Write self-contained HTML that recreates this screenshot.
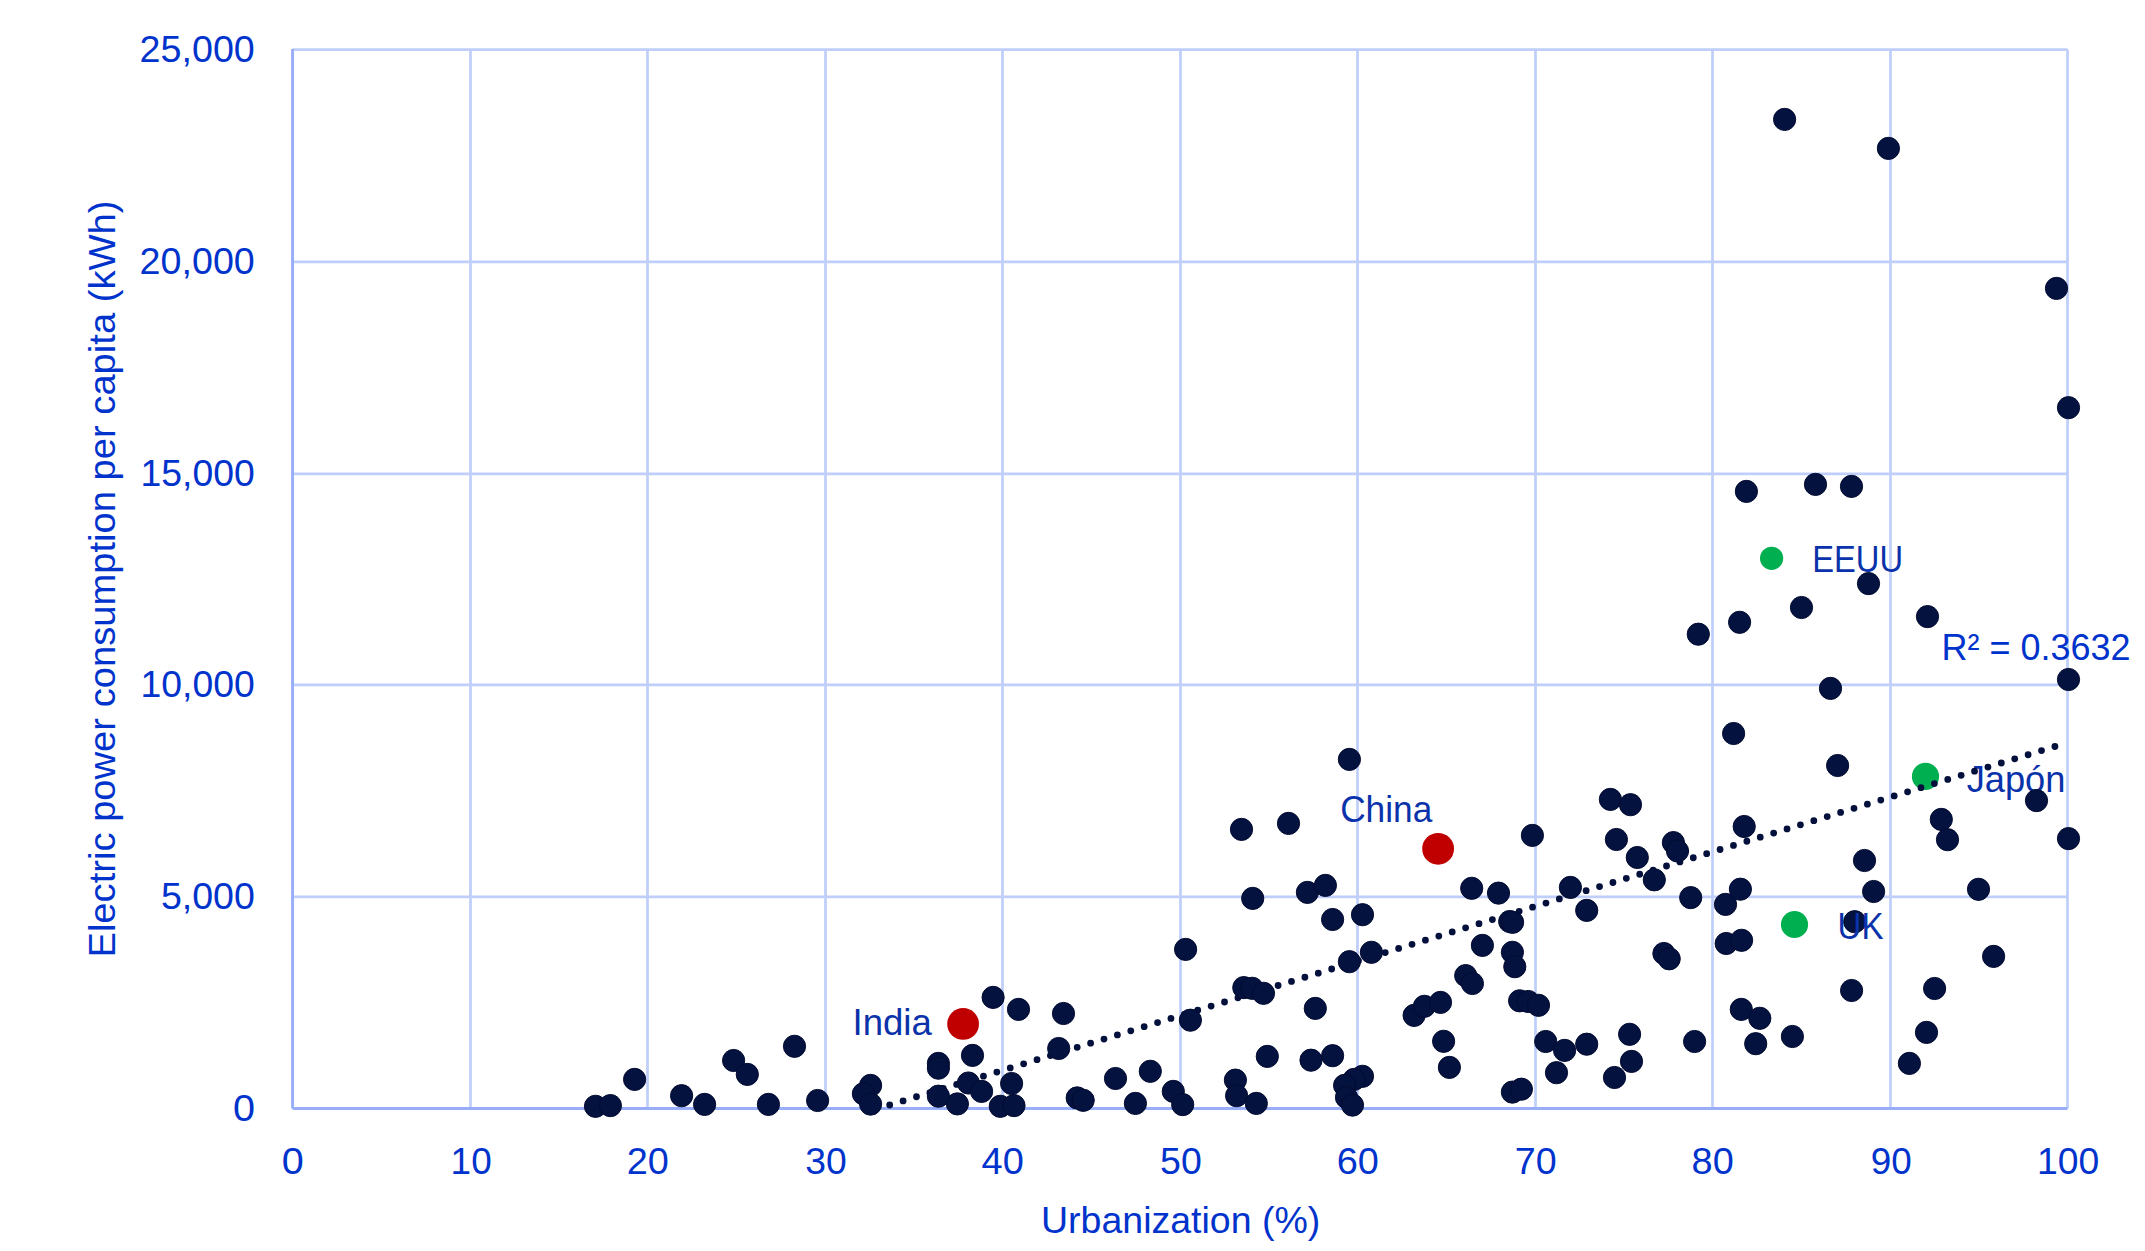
<!DOCTYPE html>
<html lang="en"><head><meta charset="utf-8"><title>Urbanization vs electric power consumption</title>
<style>
html,body{margin:0;padding:0;background:#fff;}
body{width:2145px;height:1251px;overflow:hidden;}
svg{display:block;}
text{font-family:"Liberation Sans",sans-serif;}
.ax{fill:#0033cc;font-size:37px;}
.lb{fill:#0a32aa;font-size:37px;}
</style></head><body>
<svg width="2145" height="1251" viewBox="0 0 2145 1251">
<rect width="2145" height="1251" fill="#fff"/>

<g stroke="#bfcefa" stroke-width="2.7" fill="none">
<line x1="470.50" y1="49.60" x2="470.50" y2="1108.55"/>
<line x1="647.50" y1="49.60" x2="647.50" y2="1108.55"/>
<line x1="825.50" y1="49.60" x2="825.50" y2="1108.55"/>
<line x1="1002.50" y1="49.60" x2="1002.50" y2="1108.55"/>
<line x1="1180.50" y1="49.60" x2="1180.50" y2="1108.55"/>
<line x1="1357.50" y1="49.60" x2="1357.50" y2="1108.55"/>
<line x1="1535.50" y1="49.60" x2="1535.50" y2="1108.55"/>
<line x1="1712.50" y1="49.60" x2="1712.50" y2="1108.55"/>
<line x1="1890.50" y1="49.60" x2="1890.50" y2="1108.55"/>
<line x1="2067.50" y1="49.60" x2="2067.50" y2="1108.55"/>
<line x1="292.55" y1="896.90" x2="2067.50" y2="896.90"/>
<line x1="292.55" y1="684.90" x2="2067.50" y2="684.90"/>
<line x1="292.55" y1="473.90" x2="2067.50" y2="473.90"/>
<line x1="292.55" y1="261.90" x2="2067.50" y2="261.90"/>
<line x1="292.55" y1="49.60" x2="2067.50" y2="49.60"/>
</g>
<g stroke="#98aef8" stroke-width="2.9" fill="none">
<line x1="292.55" y1="49.10" x2="292.55" y2="1108.55"/>
<line x1="292.55" y1="1108.55" x2="2067.50" y2="1108.55"/>
</g>
<circle cx="963.1" cy="1023.9" r="15.9" fill="#c00000"/>
<circle cx="1438.1" cy="848.8" r="15.9" fill="#c00000"/>
<circle cx="1794.5" cy="924.5" r="13.6" fill="#00b050"/>
<circle cx="1925.5" cy="776.4" r="13.6" fill="#00b050"/>
<circle cx="1771.6" cy="558.3" r="11.6" fill="#00b050"/>
<text class="lb" transform="translate(1966.66 791.70) scale(0.9799 1)">Japón</text>
<line x1="889.7" y1="1105.0" x2="2054.95" y2="746.48" stroke="#04103c" stroke-width="6.8" stroke-linecap="round" stroke-dasharray="0 14.0127"/>
<g fill="#04123f" stroke="#020b31" stroke-width="1">
<circle cx="595.5" cy="1106.3" r="11.1"/>
<circle cx="610.4" cy="1105.6" r="11.1"/>
<circle cx="634.6" cy="1079.4" r="11.1"/>
<circle cx="681.6" cy="1095.7" r="11.1"/>
<circle cx="704.6" cy="1104.4" r="11.1"/>
<circle cx="733.6" cy="1060.5" r="11.1"/>
<circle cx="747.3" cy="1074.4" r="11.1"/>
<circle cx="768.4" cy="1104.4" r="11.1"/>
<circle cx="794.5" cy="1046.3" r="11.1"/>
<circle cx="817.6" cy="1100.5" r="11.1"/>
<circle cx="870.6" cy="1085.4" r="11.1"/>
<circle cx="863.4" cy="1093.8" r="11.1"/>
<circle cx="870.6" cy="1104.1" r="11.1"/>
<circle cx="938.4" cy="1063.4" r="11.1"/>
<circle cx="938.4" cy="1068.2" r="11.1"/>
<circle cx="938.4" cy="1096.2" r="11.1"/>
<circle cx="993.1" cy="997.4" r="11.1"/>
<circle cx="1018.5" cy="1009.4" r="11.1"/>
<circle cx="972.5" cy="1055.4" r="11.1"/>
<circle cx="968.4" cy="1083.0" r="11.1"/>
<circle cx="981.6" cy="1091.4" r="11.1"/>
<circle cx="957.4" cy="1103.9" r="11.1"/>
<circle cx="1011.6" cy="1083.5" r="11.1"/>
<circle cx="1000.3" cy="1106.3" r="11.1"/>
<circle cx="1014.0" cy="1105.6" r="11.1"/>
<circle cx="1063.5" cy="1013.5" r="11.1"/>
<circle cx="1058.7" cy="1048.5" r="11.1"/>
<circle cx="1077.2" cy="1097.9" r="11.1"/>
<circle cx="1083.2" cy="1100.3" r="11.1"/>
<circle cx="1115.5" cy="1078.5" r="11.1"/>
<circle cx="1135.4" cy="1103.4" r="11.1"/>
<circle cx="1150.3" cy="1071.3" r="11.1"/>
<circle cx="1173.3" cy="1091.4" r="11.1"/>
<circle cx="1182.7" cy="1104.6" r="11.1"/>
<circle cx="1185.6" cy="949.4" r="11.1"/>
<circle cx="1190.4" cy="1020.2" r="11.1"/>
<circle cx="1235.4" cy="1080.1" r="11.1"/>
<circle cx="1236.6" cy="1095.7" r="11.1"/>
<circle cx="1256.3" cy="1103.4" r="11.1"/>
<circle cx="1267.3" cy="1056.4" r="11.1"/>
<circle cx="1252.7" cy="898.4" r="11.1"/>
<circle cx="1243.8" cy="987.6" r="11.1"/>
<circle cx="1252.2" cy="988.3" r="11.1"/>
<circle cx="1263.5" cy="993.3" r="11.1"/>
<circle cx="1307.4" cy="892.4" r="11.1"/>
<circle cx="1325.4" cy="885.4" r="11.1"/>
<circle cx="1332.6" cy="919.5" r="11.1"/>
<circle cx="1315.3" cy="1008.4" r="11.1"/>
<circle cx="1311.0" cy="1060.2" r="11.1"/>
<circle cx="1332.6" cy="1055.7" r="11.1"/>
<circle cx="1349.4" cy="961.7" r="11.1"/>
<circle cx="1362.5" cy="914.7" r="11.1"/>
<circle cx="1371.4" cy="952.3" r="11.1"/>
<circle cx="1362.5" cy="1076.3" r="11.1"/>
<circle cx="1354.1" cy="1079.4" r="11.1"/>
<circle cx="1344.6" cy="1085.4" r="11.1"/>
<circle cx="1346.5" cy="1097.4" r="11.1"/>
<circle cx="1352.5" cy="1105.1" r="11.1"/>
<circle cx="1414.1" cy="1015.4" r="11.1"/>
<circle cx="1424.4" cy="1006.3" r="11.1"/>
<circle cx="1440.5" cy="1002.4" r="11.1"/>
<circle cx="1443.6" cy="1041.3" r="11.1"/>
<circle cx="1449.4" cy="1067.4" r="11.1"/>
<circle cx="1465.7" cy="975.6" r="11.1"/>
<circle cx="1472.4" cy="983.5" r="11.1"/>
<circle cx="1471.7" cy="888.3" r="11.1"/>
<circle cx="1482.4" cy="945.4" r="11.1"/>
<circle cx="1498.5" cy="893.1" r="11.1"/>
<circle cx="1509.7" cy="921.5" r="11.1"/>
<circle cx="1512.6" cy="922.3" r="11.1"/>
<circle cx="1512.4" cy="952.3" r="11.1"/>
<circle cx="1514.8" cy="966.7" r="11.1"/>
<circle cx="1519.6" cy="1000.8" r="11.1"/>
<circle cx="1528.2" cy="1001.5" r="11.1"/>
<circle cx="1538.5" cy="1005.3" r="11.1"/>
<circle cx="1512.4" cy="1092.1" r="11.1"/>
<circle cx="1521.4" cy="1089.2" r="11.1"/>
<circle cx="1570.4" cy="887.4" r="11.1"/>
<circle cx="1586.7" cy="910.4" r="11.1"/>
<circle cx="1545.7" cy="1041.5" r="11.1"/>
<circle cx="1564.6" cy="1050.4" r="11.1"/>
<circle cx="1556.5" cy="1072.7" r="11.1"/>
<circle cx="1586.7" cy="1044.2" r="11.1"/>
<circle cx="1629.6" cy="1034.3" r="11.1"/>
<circle cx="1631.5" cy="1061.4" r="11.1"/>
<circle cx="1614.5" cy="1077.5" r="11.1"/>
<circle cx="1654.3" cy="879.8" r="11.1"/>
<circle cx="1637.3" cy="857.5" r="11.1"/>
<circle cx="1663.9" cy="953.5" r="11.1"/>
<circle cx="1669.2" cy="958.8" r="11.1"/>
<circle cx="1690.7" cy="897.6" r="11.1"/>
<circle cx="1694.6" cy="1041.5" r="11.1"/>
<circle cx="1725.5" cy="904.4" r="11.1"/>
<circle cx="1740.4" cy="889.2" r="11.1"/>
<circle cx="1726.2" cy="943.5" r="11.1"/>
<circle cx="1741.6" cy="940.3" r="11.1"/>
<circle cx="1741.3" cy="1009.4" r="11.1"/>
<circle cx="1759.8" cy="1018.3" r="11.1"/>
<circle cx="1755.7" cy="1043.7" r="11.1"/>
<circle cx="1792.4" cy="1036.5" r="11.1"/>
<circle cx="1854.7" cy="921.7" r="11.1"/>
<circle cx="1851.6" cy="990.5" r="11.1"/>
<circle cx="1864.5" cy="860.5" r="11.1"/>
<circle cx="1873.6" cy="891.5" r="11.1"/>
<circle cx="1909.4" cy="1063.4" r="11.1"/>
<circle cx="1926.5" cy="1032.4" r="11.1"/>
<circle cx="1934.6" cy="988.5" r="11.1"/>
<circle cx="1978.5" cy="889.3" r="11.1"/>
<circle cx="1993.6" cy="956.4" r="11.1"/>
<circle cx="1349.4" cy="759.4" r="11.1"/>
<circle cx="1241.5" cy="829.4" r="11.1"/>
<circle cx="1288.5" cy="823.4" r="11.1"/>
<circle cx="1532.4" cy="835.4" r="11.1"/>
<circle cx="1698.3" cy="634.2" r="11.1"/>
<circle cx="1739.6" cy="622.3" r="11.1"/>
<circle cx="1801.5" cy="607.5" r="11.1"/>
<circle cx="1868.5" cy="583.6" r="11.1"/>
<circle cx="1927.5" cy="616.6" r="11.1"/>
<circle cx="1830.5" cy="688.4" r="11.1"/>
<circle cx="1733.6" cy="733.5" r="11.1"/>
<circle cx="1837.6" cy="765.5" r="11.1"/>
<circle cx="1610.4" cy="799.4" r="11.1"/>
<circle cx="1630.5" cy="804.7" r="11.1"/>
<circle cx="1616.4" cy="839.5" r="11.1"/>
<circle cx="1673.4" cy="842.6" r="11.1"/>
<circle cx="1677.5" cy="851.0" r="11.1"/>
<circle cx="1744.2" cy="826.5" r="11.1"/>
<circle cx="1941.3" cy="819.4" r="11.1"/>
<circle cx="1947.5" cy="839.7" r="11.1"/>
<circle cx="2036.5" cy="800.6" r="11.1"/>
<circle cx="2068.5" cy="679.5" r="11.1"/>
<circle cx="2068.5" cy="838.6" r="11.1"/>
<circle cx="1784.6" cy="119.4" r="11.1"/>
<circle cx="1888.4" cy="148.4" r="11.1"/>
<circle cx="2056.5" cy="288.4" r="11.1"/>
<circle cx="2068.5" cy="407.7" r="11.1"/>
<circle cx="1746.4" cy="491.4" r="11.1"/>
<circle cx="1815.5" cy="484.4" r="11.1"/>
<circle cx="1851.5" cy="486.4" r="11.1"/>
</g>
<text class="ax" transform="translate(233.12 1120.55) scale(1.0692 1)">0</text>
<text class="ax" transform="translate(160.92 908.90) scale(1.0150 1)">5,000</text>
<text class="ax" transform="translate(140.55 696.90) scale(1.0101 1)">10,000</text>
<text class="ax" transform="translate(140.55 485.90) scale(1.0101 1)">15,000</text>
<text class="ax" transform="translate(139.61 273.90) scale(1.0185 1)">20,000</text>
<text class="ax" transform="translate(139.61 61.60) scale(1.0185 1)">25,000</text>
<text class="ax" transform="translate(281.63 1173.50) scale(1.0692 1)">0</text>
<text class="ax" transform="translate(450.61 1173.50) scale(0.9990 1)">10</text>
<text class="ax" transform="translate(626.63 1173.50) scale(1.0237 1)">20</text>
<text class="ax" transform="translate(805.24 1173.50) scale(1.0084 1)">30</text>
<text class="ax" transform="translate(981.54 1173.50) scale(1.0259 1)">40</text>
<text class="ax" transform="translate(1160.03 1173.50) scale(1.0138 1)">50</text>
<text class="ax" transform="translate(1336.63 1173.50) scale(1.0237 1)">60</text>
<text class="ax" transform="translate(1514.85 1173.50) scale(1.0182 1)">70</text>
<text class="ax" transform="translate(1691.61 1173.50) scale(1.0241 1)">80</text>
<text class="ax" transform="translate(1870.69 1173.50) scale(0.9970 1)">90</text>
<text class="ax" transform="translate(2037.12 1173.50) scale(1.0085 1)">100</text>
<text class="ax" transform="translate(1040.99 1232.60) scale(1.0138 1)">Urbanization (%)</text>
<text class="ax" transform="translate(115.0 957.55) rotate(-90) scale(1.0313 1)">Electric power consumption per capita (kWh)</text>
<text class="lb" transform="translate(852.51 1034.60) scale(0.9888 1)">India</text>
<text class="lb" transform="translate(1340.14 821.60) scale(0.9533 1)">China</text>
<text class="lb" transform="translate(1837.51 938.90) scale(0.8960 1)">UK</text>
<text class="lb" transform="translate(1812.18 571.80) scale(0.8841 1)">EEUU</text>
<text class="ax" transform="translate(1941.42 659.85) scale(0.9735 1)">R² = 0.3632</text>
</svg></body></html>
